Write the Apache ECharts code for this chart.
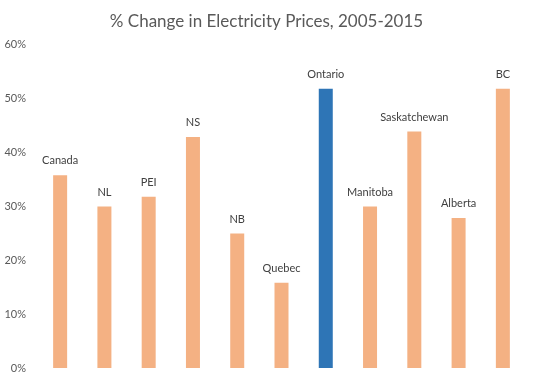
<!DOCTYPE html>
<html>
<head>
<meta charset="utf-8">
<script src="https://cdn.jsdelivr.net/npm/echarts@6/dist/echarts.min.js"></script>
<style>
html,body{margin:0;padding:0;background:#fff;}
#chart{width:533px;height:382px;}
</style>
</head>
<body>
<div id="chart"></div>
<script>
var categories = ['Canada','NL','PEI','NS','NB','Quebec','Ontario','Manitoba','Saskatchewan','Alberta','BC'];
var values = [35.7, 29.9, 31.7, 42.8, 24.9, 15.8, 51.7, 29.9, 43.8, 27.8, 51.7];
var highlight = 'Ontario';
var yTicks = [0, 10, 20, 30, 40, 50, 60];

var chart = echarts.init(document.getElementById('chart'), null, {renderer:'canvas'});
var font = 'Lato, "Open Sans", sans-serif';
chart.setOption({
  animation: false,
  title: {
    text: '% Change in Electricity Prices, 2005-2015',
    left: 'center', top: 8,
    textStyle: {fontFamily: font, fontSize: 17, fontWeight: 'normal', color: '#595959'}
  },
  grid: {left: 38, right: 8, top: 44, bottom: 14},
  xAxis: {
    type: 'category', data: categories,
    axisLine: {show: false}, axisTick: {show: false}, axisLabel: {show: false}
  },
  yAxis: {
    type: 'value', min: yTicks[0], max: yTicks[yTicks.length-1], interval: 10,
    axisLine: {show: false}, axisTick: {show: false},
    splitLine: {show: false},
    axisLabel: {formatter: '{value}%', fontFamily: font, fontSize: 11, color: '#595959', margin: 12}
  },
  series: [{
    type: 'bar',
    barWidth: 14,
    data: values.map(function(v, i){
      return {value: v, itemStyle: {color: categories[i] === highlight ? '#2E75B6' : '#F4B183'}};
    }),
    label: {
      show: true, position: 'top', distance: 9,
      formatter: '{b}', fontFamily: font, fontSize: 11, color: '#404040'
    }
  }]
});
</script>
</body>
</html>
